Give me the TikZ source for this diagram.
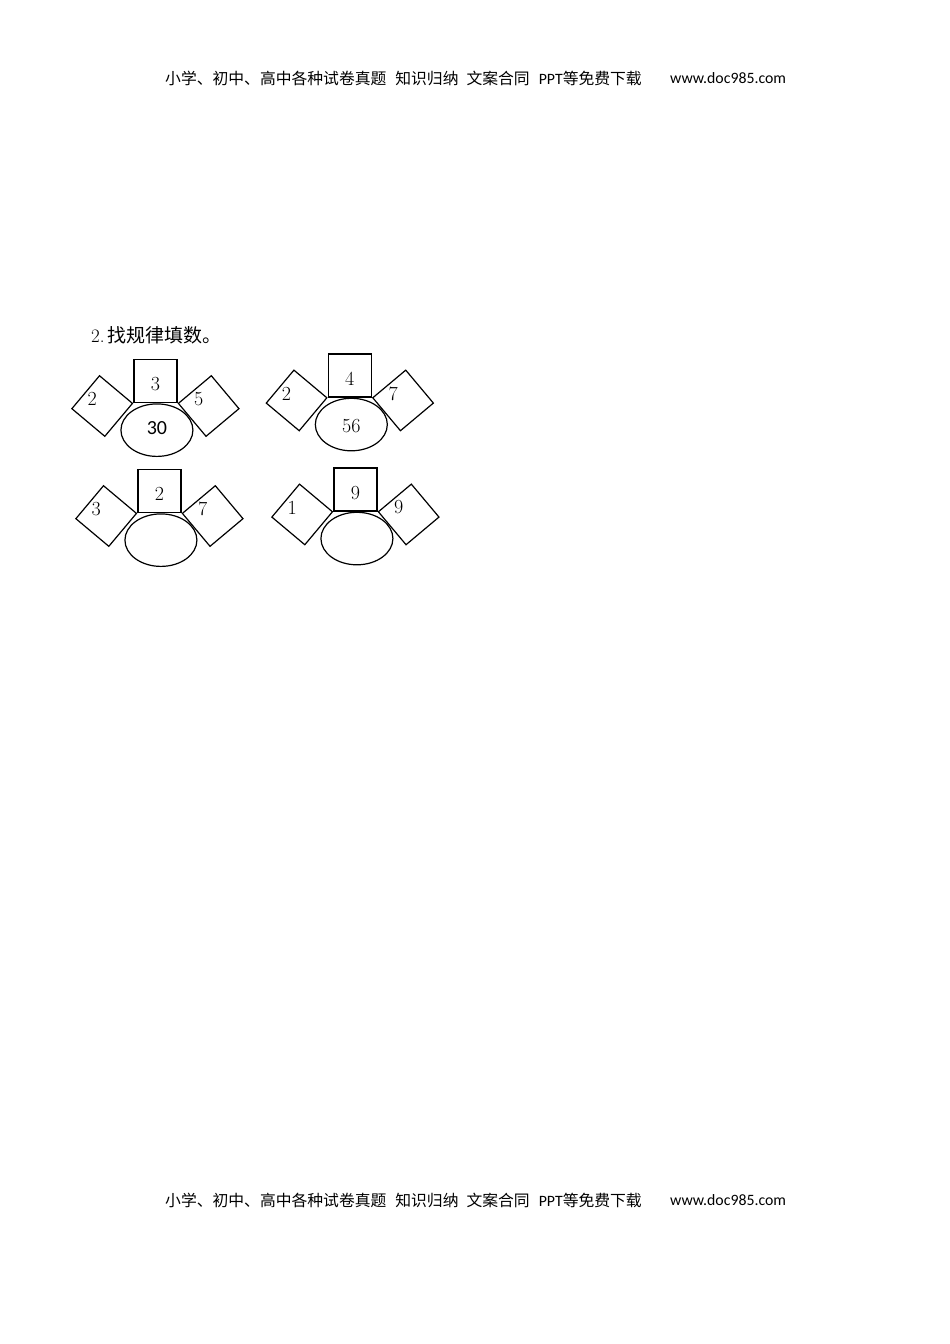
\documentclass[tikz,border=0pt]{standalone}
\usepackage{fontspec}
\newfontfamily\cjk{Noto Sans CJK SC}
\newfontfamily\cali{Carlito}
\usetikzlibrary{shapes.geometric}

\begin{document}
\begin{tikzpicture}[x=1pt,y=-1pt,
    sqbox/.style={draw, line width=1.25pt, minimum size=43pt, inner sep=0pt},
    dmbox/.style={draw, line width=1.2pt, minimum size=43pt, inner sep=0pt},
    ovbox/.style={draw, ellipse, line width=1.2pt, minimum width=72pt, minimum height=52.5pt, inner sep=0pt},
    num/.style={inner sep=0pt, font=\fontsize{20}{20}\selectfont},
    head/.style={anchor=west, inner sep=0pt, font=\fontsize{15.8}{15.8}\selectfont}]
  \useasboundingbox (0,0) rectangle (950,1344);

  % header and footer
  \node[head] (top) at (165,78) {\cjk 小学、初中、高中各种试卷真题\hspace{9pt}知识归纳\hspace{8pt}文案合同\hspace{9pt}{\cali PPT}等免费下载};
  \node[head] (topurl) at (670,78) {\cali www.doc985.com};
  \node[head] (bot) at (165,1200) {\cjk 小学、初中、高中各种试卷真题\hspace{9pt}知识归纳\hspace{8pt}文案合同\hspace{9pt}{\cali PPT}等免费下载};
  \node[head] (boturl) at (670,1200) {\cali www.doc985.com};

  \node[anchor=west, inner sep=0pt, font=\fontsize{19}{19}\selectfont] (title) at (91,335) {2.\hspace{3pt}{\cjk 找规律填数。}};

  \begin{scope}[shift={(133.3,403.3)}]
    \node[sqbox, anchor=south west] (sq) at (0,0) {};
    \node[dmbox, rotate=50, anchor=south east] (ld) at (sq.south west) {};
    \node[dmbox, rotate=-50, anchor=south west] (rd) at (sq.south east) {};
    \node[ovbox, anchor=north] (ov) at ([xshift=1.5pt]sq.south) {};
    \node[num] (st) at ([yshift=-3pt]sq.center) {3};
    \node[num] (lt) at ([shift={(-10,-7)}]ld.center) {2};
    \node[num] (rt) at ([shift={(-10,-7)}]rd.center) {5};
    \node[num, font=\cali\fontsize{20}{20}\selectfont] (ot) at ([yshift=2pt]ov.center) {30};
  \end{scope}

  \begin{scope}[shift={(327.7,397.7)}]
    \node[sqbox, anchor=south west] (sq) at (0,0) {};
    \node[dmbox, rotate=50, anchor=south east] (ld) at (sq.south west) {};
    \node[dmbox, rotate=-50, anchor=south west] (rd) at (sq.south east) {};
    \node[ovbox, anchor=north] (ov) at ([xshift=1.5pt]sq.south) {};
    \node[num] (st) at ([yshift=-3pt]sq.center) {4};
    \node[num] (lt) at ([shift={(-10,-7)}]ld.center) {2};
    \node[num] (rt) at ([shift={(-10,-7)}]rd.center) {7};
    \node[num] (ot) at ([yshift=-1pt]ov.center) {56};
  \end{scope}

  \begin{scope}[shift={(137.3,513.3)}]
    \node[sqbox, anchor=south west] (sq) at (0,0) {};
    \node[dmbox, rotate=50, anchor=south east] (ld) at (sq.south west) {};
    \node[dmbox, rotate=-50, anchor=south west] (rd) at (sq.south east) {};
    \node[ovbox, anchor=north] (ov) at ([xshift=1.5pt]sq.south) {};
    \node[num] (st) at ([yshift=-3pt]sq.center) {2};
    \node[num] (lt) at ([shift={(-10,-7)}]ld.center) {3};
    \node[num] (rt) at ([shift={(-10,-7)}]rd.center) {7};
  \end{scope}

  \begin{scope}[shift={(333.3,511.7)}]
    \node[sqbox, anchor=south west] (sq) at (0,0) {};
    \node[dmbox, rotate=50, anchor=south east] (ld) at (sq.south west) {};
    \node[dmbox, rotate=-50, anchor=south west] (rd) at (sq.south east) {};
    \node[ovbox, anchor=north] (ov) at ([xshift=1.5pt]sq.south) {};
    \node[num] (st) at ([yshift=-3pt]sq.center) {9};
    \node[num] (lt) at ([shift={(-10,-7)}]ld.center) {1};
    \node[num] (rt) at ([shift={(-10,-7)}]rd.center) {9};
  \end{scope}

\end{tikzpicture}
\end{document}
